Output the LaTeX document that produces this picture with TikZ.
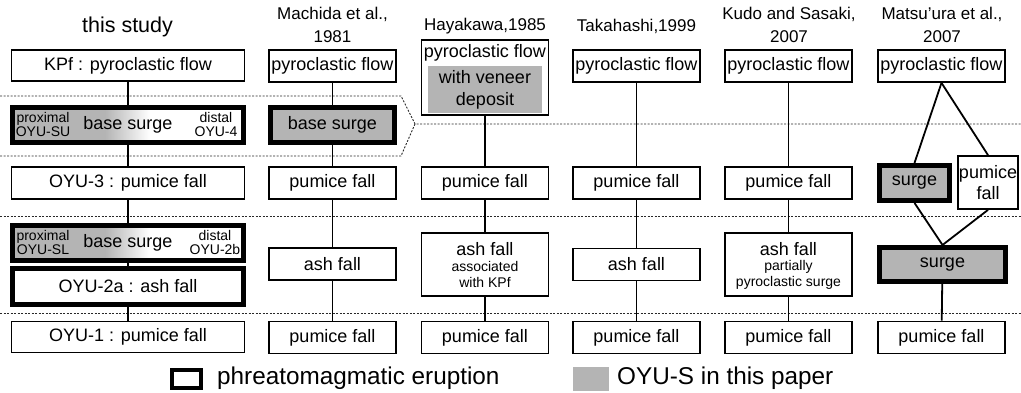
\documentclass[tikz,border=0pt]{standalone}
\usepackage{fontspec}
\setmainfont{Liberation Sans}
\usepackage{tikz}
\usetikzlibrary{positioning}
\definecolor{oyugray}{RGB}{180,180,180}
\definecolor{dotline}{RGB}{40,40,40}
\newcommand\boxfs{\fontsize{18}{21}\selectfont}
\newcommand\smallfs{\fontsize{14}{13.5}\selectfont}
\newcommand\notefs{\fontsize{14}{16}\selectfont}
\newcommand\titlefs{\fontsize{17}{23}\selectfont}
\newcommand\studyfs{\fontsize{21.5}{24}\selectfont}
\newcommand\legendfs{\fontsize{24.3}{27}\selectfont}

\tikzset{
  layer/.style={draw,line width=1.8pt,fill=white,inner sep=0pt,align=center,font=\boxfs,minimum width=127pt,minimum height=32pt},
  phreato/.style={layer,line width=5pt},
  oyus/.style={fill=oyugray},
  link/.style={line width=1.8pt},
  unitline/.style={dotline,line width=0.9pt,dash pattern=on 2pt off 1.5pt},
  colhead/.style={align=center,font=\titlefs,inner sep=0pt},
  note/.style={align=center,font=\smallfs,inner sep=0pt},
}

\begin{document}
\begin{tikzpicture}[x=1pt,y=-1pt]
  \useasboundingbox (0,0) rectangle (1021,393);
  % unit boundaries
  \draw[unitline] (0,96) -- (401,96) -- (415,124) -- (1021,124);
  \draw[unitline] (0,156) -- (401,156) -- (415,124);
  \draw[unitline] (0,216) -- (1021,216);
  \draw[unitline] (0,313) -- (1021,313);

  % column heads
  \node[colhead,font=\studyfs] (hStudy) at (127.5,27) {this study};
  \node[colhead] (hMachida) at (332.5,25) {Machida et al.,\\1981};
  \node[colhead] (hHayakawa) at (485,26) {Hayakawa,1985};
  \node[colhead] (hTakahashi) at (636.5,26) {Takahashi,1999};
  \node[colhead] (hKudo) at (789,25) {Kudo and Sasaki,\\2007};
  \node[colhead] (hMatsuura) at (942,25) {Matsu’ura et al.,\\2007};

  % this study
  \fill[oyugray] (12,107) rectangle (105,143);
  \shade[left color=oyugray,right color=white] (105,107) rectangle (150,143);
  \fill[oyugray] (12,225) rectangle (105,261);
  \shade[left color=oyugray,right color=white] (105,225) rectangle (150,261);
  \node[layer,minimum width=233pt,minimum height=31pt] (kpf) at (128,65.5) {KPf : pyroclastic flow};
  \node[phreato,fill=none,minimum width=231pt,minimum height=35pt] (bsU) at (128,125) {base surge};
  \node[note] (bsUprox) at (43,124.5) {proximal\\OYU-SU};
  \node[note] (bsUdist) at (216,124.5) {distal\\OYU-4};
  \node[layer,minimum width=233pt] (oyu3) at (128,183) {OYU-3 : pumice fall};
  \node[phreato,fill=none,minimum width=231pt,minimum height=35pt] (bsL) at (128,243) {base surge};
  \node[note] (bsLprox) at (43,242.5) {proximal\\OYU-SL};
  \node[note] (bsLdist) at (215,242.5) {distal\\OYU-2b};
  \node[phreato,minimum width=231pt,minimum height=36pt] (oyu2a) at (128,286) {OYU-2a : ash fall};
  \node[layer,minimum width=233pt,minimum height=31pt] (oyu1) at (128,337) {OYU-1 : pumice fall};
  \draw[link] (kpf) -- (bsU);
  \draw[link] (bsU) -- (oyu3);
  \draw[link] (oyu3) -- (bsL);
  \draw[link] (bsL) -- (oyu2a);
  \draw[link] (oyu2a) -- (oyu1);

  % Machida et al., 1981
  \node[layer] (maPf) at (332.5,66) {pyroclastic flow};
  \node[phreato,oyus,minimum width=124pt,minimum height=35pt] (maSurge) at (332.5,125) {base surge};
  \node[layer] (maPum) at (332.5,183) {pumice fall};
  \node[layer] (maAsh) at (332.5,264) {ash fall};
  \node[layer] (maPumB) at (332.5,337.5) {pumice fall};
  \draw[link] (maPf) -- (maSurge);
  \draw[link] (maSurge) -- (maPum);
  \draw[link] (maPum) -- (maAsh);
  \draw[link] (maAsh) -- (maPumB);

  % Hayakawa, 1985
  \node[layer,minimum height=75pt] (haPf) at (485,77.5) {};
  \node[inner sep=0pt,font=\boxfs] (haPfTxt) at (485,53) {pyroclastic flow};
  \node[oyus,inner sep=0pt,align=center,font=\fontsize{18}{22}\selectfont,minimum width=114pt,minimum height=47pt] (haVeneer) at (485,89.5) {with veneer\\deposit};
  \node[layer] (haPum) at (485,183) {pumice fall};
  \node[layer,minimum height=63pt] (haAsh) at (485,264.5) {};
  \node[inner sep=0pt,font=\boxfs] (haAshTxt) at (485,249) {ash fall};
  \node[note,font=\notefs] (haAshNote) at (485,274.5) {associated\\with KPf};
  \node[layer] (haPumB) at (485,337.5) {pumice fall};
  \draw[link] (haPf) -- (haPum);
  \draw[link] (haPum) -- (haAsh);
  \draw[link] (haAsh) -- (haPumB);

  % Takahashi, 1999
  \node[layer] (taPf) at (636.5,66) {pyroclastic flow};
  \node[layer] (taPum) at (636.5,183) {pumice fall};
  \node[layer] (taAsh) at (636.5,264.5) {ash fall};
  \node[layer] (taPumB) at (636.5,337.5) {pumice fall};
  \draw[link] (taPf) -- (taPum);
  \draw[link] (taPum) -- (taAsh);
  \draw[link] (taAsh) -- (taPumB);

  % Kudo and Sasaki, 2007
  \node[layer] (kuPf) at (788.5,66) {pyroclastic flow};
  \node[layer] (kuPum) at (788.5,183) {pumice fall};
  \node[layer,minimum height=63pt] (kuAsh) at (788.5,264.5) {};
  \node[inner sep=0pt,font=\boxfs] (kuAshTxt) at (788.5,249) {ash fall};
  \node[note,font=\notefs] (kuAshNote) at (788.5,274.5) {partially\\pyroclastic surge};
  \node[layer] (kuPumB) at (788.5,337.5) {pumice fall};
  \draw[link] (kuPf) -- (kuPum);
  \draw[link] (kuPum) -- (kuAsh);
  \draw[link] (kuAsh) -- (kuPumB);

  % Matsu'ura et al., 2007
  \node[layer] (mtPf) at (941.5,66) {pyroclastic flow};
  \node[phreato,oyus,minimum width=70pt,minimum height=35pt] (mtSurgeU) at (914.5,183) {surge};
  \node[layer,minimum width=60pt,minimum height=53pt] (mtPum) at (988,182.5) {pumice\\fall};
  \node[phreato,oyus,minimum width=126pt,minimum height=34pt] (mtSurgeL) at (942.5,264.5) {surge};
  \node[layer] (mtPumB) at (941.5,337.5) {pumice fall};
  \draw[link] (mtPf.south) -- (mtSurgeU.north);
  \draw[link] (mtPf.south) -- (mtPum.north);
  \draw[link] (mtSurgeU.south) -- (mtSurgeL.north);
  \draw[link] (mtPum.south) -- (mtSurgeL.north);
  \draw[link] (mtSurgeL) -- (mtPumB);

  % legend
  \node[draw,line width=4.5pt,minimum width=29pt,minimum height=18pt,inner sep=0pt] (keyPhreato) at (186.5,379) {};
  \node[anchor=west,font=\legendfs,inner sep=0pt] (keyPhreatoTxt) at (217,378) {phreatomagmatic eruption};
  \node[oyus,minimum width=36pt,minimum height=24pt,inner sep=0pt] (keyOyu) at (591,379) {};
  \node[anchor=west,font=\legendfs,inner sep=0pt] (keyOyuTxt) at (617,378) {OYU-S in this paper};
\end{tikzpicture}
\end{document}
